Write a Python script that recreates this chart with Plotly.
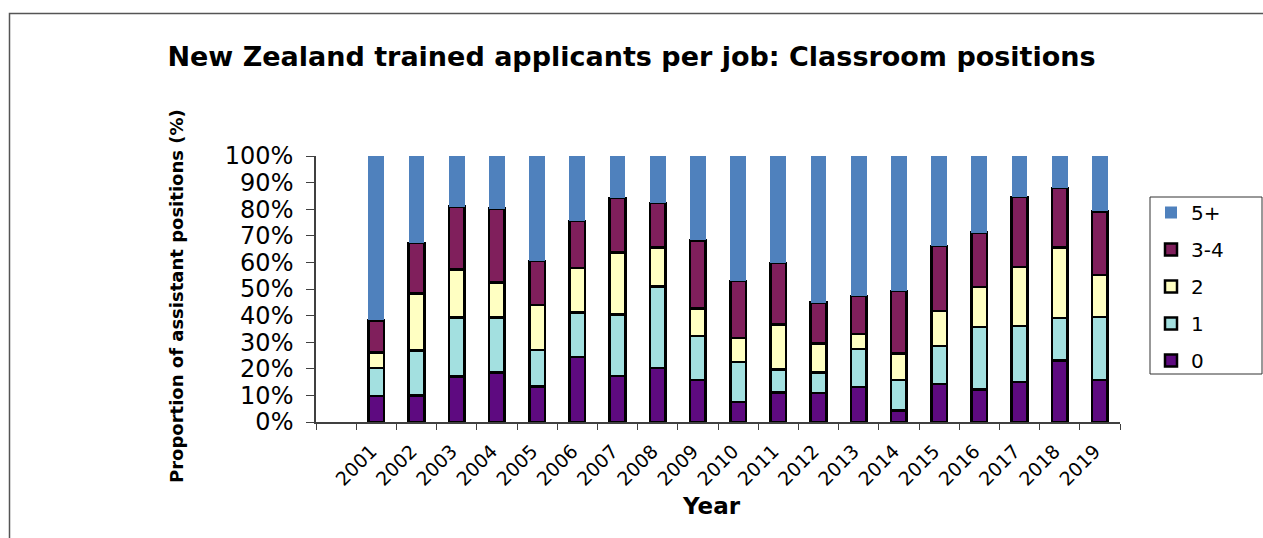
import plotly.graph_objects as go

# ─── Data (% of assistant positions by number of NZ trained applicants) ─────

years = [str(y) for y in range(2001, 2020)]
series_names = ["0", "1", "2", "3-4", "5+"]

applicants_0 = [9.7, 10.0, 17.1, 18.7, 13.3, 24.4, 17.3, 20.3, 15.7, 7.5,
                11.0, 10.9, 13.2, 4.4, 14.2, 12.2, 15.0, 23.2, 15.7]
applicants_1 = [10.6, 16.8, 22.1, 20.5, 13.7, 16.7, 23.2, 30.6, 16.6, 15.1,
                8.8, 7.7, 14.2, 11.3, 14.4, 23.5, 21.0, 15.9, 23.8]
applicants_2 = [5.8, 21.5, 18.2, 13.2, 16.9, 16.8, 23.2, 14.7, 10.4, 9.0,
                16.9, 10.9, 5.6, 10.0, 13.1, 15.1, 22.3, 26.5, 15.7]
applicants_3_4 = [12.1, 19.0, 23.6, 27.8, 16.6, 17.7, 20.6, 16.7, 25.6, 21.4,
                  23.1, 15.4, 14.3, 23.5, 24.5, 20.4, 26.3, 22.4, 24.0]
applicants_5p = [61.8, 32.7, 19.0, 19.8, 39.5, 24.4, 15.7, 17.7, 31.7, 47.0,
                 40.2, 55.1, 52.7, 50.8, 33.8, 28.8, 15.4, 12.0, 20.8]

y_ticks = list(range(0, 101, 10))

colors = {
    "0": "#5E0A80",
    "1": "#A3E0E0",
    "2": "#FFFFC2",
    "3-4": "#801F5C",
    "5+": "#4F81BD",
}

FONT = "DejaVu Sans, Arial, sans-serif"

# plot area in pixels (reference): x 316..1120, y 156..422
L, R, T, B = 316, 1120, 156, 422


def px_x(x):
    return (x - L) / (R - L)


def px_y(y):
    return (B - y) / (B - T)


fig = go.Figure()
series = [applicants_0, applicants_1, applicants_2, applicants_3_4, applicants_5p]
for rank, (name, vals) in enumerate(zip(series_names, series)):
    outlined = name != "5+"
    fig.add_trace(go.Bar(
        x=years, y=vals, name=name,
        width=0.39,
        legendgroup=name,
        legendrank=100 - rank,
        marker=dict(
            color=colors[name],
            line=dict(color="black", width=2.5 if outlined else 0),
        ),
        hovertemplate="%{x}: %{y:.1f}%<extra>" + name + "</extra>",
    ))

fig.update_layout(
    width=1263, height=538,
    barmode="stack",
    plot_bgcolor="white",
    paper_bgcolor="white",
    margin=dict(l=L, r=1263 - R, t=T, b=538 - B),
    font=dict(family=FONT, color="black"),
    title=dict(
        text="<b>New Zealand trained applicants per job: Classroom positions</b>",
        x=0.5, xref="container", xanchor="center",
        y=1 - 57 / 538, yref="container", yanchor="middle",
        font=dict(size=27, family=FONT, color="black"),
    ),
    legend=dict(
        x=px_x(1151), xanchor="left",
        y=px_y(193), yanchor="top",
        traceorder="grouped",
        tracegroupgap=8,
        font=dict(size=20, family=FONT, color="black"),
        borderwidth=0,
        bgcolor="rgba(0,0,0,0)",
    ),
    showlegend=True,
)

fig.update_xaxes(
    type="category",
    categoryorder="array",
    categoryarray=[" "] + years,
    range=[-0.5, len(years) + 0.5],
    tickson="boundaries",
    ticks="outside", ticklen=6, tickcolor="#404040",
    tickangle=-45,
    ticklabelstandoff=9,
    ticklabelshift=-5,
    tickfont=dict(size=19, family=FONT, color="black"),
    showline=True, linecolor="#404040", linewidth=1.5,
    showgrid=False, zeroline=False,
    automargin=False,
)

fig.update_yaxes(
    range=[0, 100],
    tickmode="array", tickvals=y_ticks,
    ticktext=[f"{v}%" for v in y_ticks],
    ticks="outside", ticklen=8, tickcolor="#404040",
    ticklabelstandoff=8,
    tickfont=dict(size=24, family=FONT, color="black"),
    showline=True, linecolor="#404040", linewidth=1.5,
    showgrid=False, zeroline=False,
    automargin=False,
)

# axis titles placed as annotations to match the reference position
fig.add_annotation(
    text="<b>Proportion of assistant positions (%)</b>",
    textangle=-90,
    x=px_x(176), y=px_y(296),
    xref="paper", yref="paper",
    xanchor="center", yanchor="middle",
    showarrow=False,
    font=dict(size=18, family=FONT, color="black"),
)
fig.add_annotation(
    text="<b>Year</b>",
    x=px_x(711), y=px_y(506),
    xref="paper", yref="paper",
    xanchor="center", yanchor="middle",
    showarrow=False,
    font=dict(size=23, family=FONT, color="black"),
)

# legend frame
fig.add_shape(
    type="rect", xref="paper", yref="paper",
    x0=px_x(1150), x1=px_x(1262),
    y0=px_y(374), y1=px_y(197),
    line=dict(color="#333333", width=1),
    fillcolor="white",
    layer="below",
)

# outer chart-area frame (left and top edges visible)
fig.add_shape(
    type="rect", xref="paper", yref="paper",
    x0=px_x(9.5), x1=1.2,
    y0=-0.6, y1=px_y(13.5),
    line=dict(color="#555555", width=1.5),
    layer="below",
)

fig.write_html(
    "out.html",
    config={"displayModeBar": False},
    post_script="document.body.style.margin='0px';",
)
